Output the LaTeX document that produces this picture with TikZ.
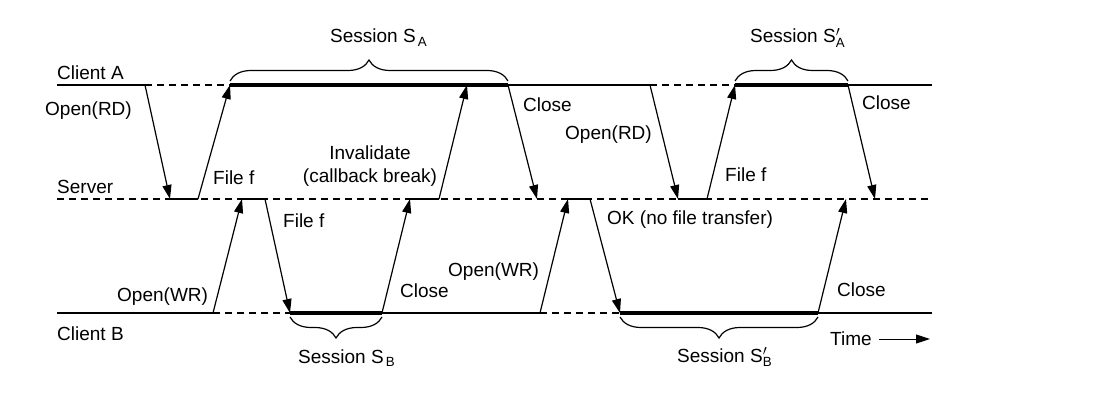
\documentclass[tikz,border=0pt]{standalone}
\usepackage{fontspec}
\setmainfont{Liberation Sans}
\usetikzlibrary{arrows.meta,decorations.pathreplacing}
\newcommand{\sprime}[1]{$\mathrm{S}'_{\mathrm{#1}}$}
\tikzset{
  tl/.style={line width=1.3pt},
  dl/.style={line width=1.1pt, dash pattern=on 7pt off 5pt},
  sess/.style={line width=4pt},
  held/.style={line width=2.2pt},
  msg/.style={line width=1.2pt, -{Triangle[length=14pt,width=9pt]}},
  lbl/.style={font=\fontsize{19}{22}\selectfont, inner sep=0pt, anchor=base west},
  brc/.style={decorate, decoration={brace, amplitude=21pt, raise=4pt}, line width=1.2pt},
}
\begin{document}
\begin{tikzpicture}[x=1pt, y=1pt]
  \useasboundingbox (0,0) rectangle (1114,402);
  % time points on the three lines
  \foreach \n/\x in {aL/57, a1/145, a2/230, aI/467, a3/508, a4/650, a5/735, a6/848, aR/932}
    \coordinate (\n) at (\x,317);
  \foreach \n/\x in {sL/57, s1/170, s2/198, s3/242, s4/265, s5/410, s6/439, s7/537, s8/568,
                     s9/590, s10/678, s11/707, s12/846, s13/875, sR/932}
    \coordinate (\n) at (\x,203);
  \foreach \n/\x in {bL/57, b1/213, b2/290, b3/382, b4/540, b5/620, b6/818, bR/932}
    \coordinate (\n) at (\x,89);

  % client A
  \draw[tl] (aL) -- (a1); \draw[dl] (a1) -- (a2); \draw[sess] (a2) -- (a3);
  \draw[tl] (a3) -- (a4); \draw[dl] (a4) -- (a5); \draw[sess] (a5) -- (a6);
  \draw[tl] (a6) -- (aR);
  % server
  \draw[dl] (sL) -- (sR);
  \draw[held] (s1) -- (s2); \draw[held] (s3) -- (s4); \draw[held] (s5) -- (s6);
  \draw[held] (s8) -- (s9); \draw[held] (s10) -- (s11);
  % client B
  \draw[tl] (bL) -- (b1); \draw[dl] (b1) -- (b2); \draw[sess] (b2) -- (b3);
  \draw[tl] (b3) -- (b4); \draw[dl] (b4) -- (b5); \draw[sess] (b5) -- (b6);
  \draw[tl] (b6) -- (bR);

  % messages
  \draw[msg] (a1) -- (s1); \draw[msg] (s2) -- (a2);
  \draw[msg] (b1) -- (s3); \draw[msg] (s4) -- (b2);
  \draw[msg] (b3) -- (s5); \draw[msg] (s6) -- (aI);
  \draw[msg] (a3) -- (s7); \draw[msg] (b4) -- (s8);
  \draw[msg] (s9) -- (b5); \draw[msg] (a4) -- (s10);
  \draw[msg] (s11) -- (a5); \draw[msg] (a6) -- (s13);
  \draw[msg] (b6) -- (s12);

  % sessions
  \draw[brc] (a2) -- (a3); \draw[brc] (a5) -- (a6);
  \draw[brc] (b3) -- (b2); \draw[brc] (b6) -- (b5);

  \node[lbl] (cA) at (57,322) {Client A};
  \node[lbl] (srv) at (57,208) {Server};
  \node[lbl] (cB) at (57,62) {Client B};
  \node[lbl] (o1) at (45,286) {Open(RD)};
  \node[lbl] (f1) at (213,217) {File f};
  \node[lbl, anchor=base] (inv) at (370,242) {Invalidate};
  \node[lbl, anchor=base] (cbk) at (370,219) {(callback break)};
  \node[lbl] (c1) at (523,290) {Close};
  \node[lbl] (o2) at (565,262) {Open(RD)};
  \node[lbl] (f2) at (725,220) {File f};
  \node[lbl] (c2) at (862,292) {Close};
  \node[lbl] (sA) at (330,359) {Session S\textsubscript{\,A}};
  \node[lbl] (sA2) at (750,359) {Session \sprime{A}};
  \node[lbl] (f3) at (283,174) {File f};
  \node[lbl] (w1) at (117,100) {Open(WR)};
  \node[lbl] (sB) at (298,39) {Session S\textsubscript{\,B}};
  \node[lbl] (c3) at (400,104) {Close};
  \node[lbl] (w2) at (448,125) {Open(WR)};
  \node[lbl] (ok) at (607,177) {OK (no file transfer)};
  \node[lbl] (sB2) at (677,40) {Session \sprime{B}};
  \node[lbl] (c4) at (837,106) {Close};
  \node[lbl] (tm) at (830,57) {Time};
  \coordinate (tmEnd) at (930,63);
  \draw[line width=1pt, -{Triangle[length=14pt,width=9pt]}] (tm.east |- tmEnd) ++(7,0) -- (tmEnd);
\end{tikzpicture}
\end{document}
